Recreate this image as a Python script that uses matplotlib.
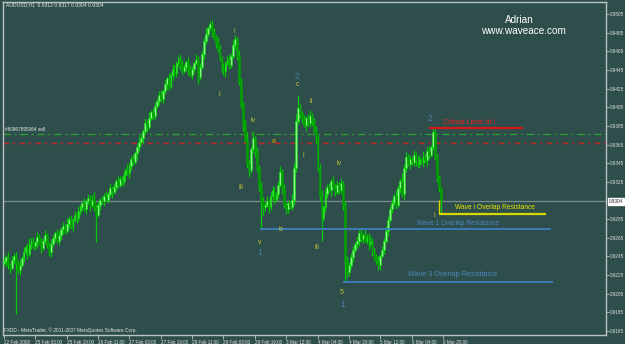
import matplotlib
matplotlib.use('Agg')
import matplotlib.pyplot as plt
import numpy as np

# ---------------- data (prices in pips, 1 pip = 0.0001) ----------------
first_open = 9238
closes = [
    9240, 9244, 9236, 9233, 9241, 9246, 9238, 9230, 9236, 9243,
    9250, 9255, 9248, 9258, 9262, 9256, 9260, 9266, 9259, 9254,
    9262, 9268, 9257, 9250, 9258, 9265, 9270, 9262, 9268, 9274,
    9278, 9272, 9280, 9285, 9278, 9284, 9290, 9286, 9294, 9298,
    9302, 9296, 9304, 9308, 9300, 9306, 9298, 9290, 9300, 9306,
    9304, 9310, 9306, 9312, 9318, 9314, 9320, 9326, 9322, 9328,
    9325, 9332, 9338, 9334, 9342, 9350, 9346, 9356, 9362, 9368,
    9372, 9380, 9388, 9384, 9394, 9400, 9396, 9406, 9412, 9418,
    9414, 9422, 9430, 9436, 9428, 9440, 9446, 9442, 9452, 9458,
    9450, 9444, 9448, 9454, 9446, 9440, 9446, 9452, 9456, 9438,
    9448, 9462, 9476, 9484, 9490, 9494, 9486, 9480, 9474, 9468,
    9458, 9448, 9444, 9452, 9456, 9450, 9460, 9472, 9478, 9460,
    9432, 9408, 9386, 9370, 9345, 9338, 9360, 9372, 9358, 9340,
    9320, 9305, 9298, 9300, 9304, 9298, 9310, 9316, 9306, 9312,
    9322, 9336, 9318, 9300, 9296, 9302, 9298, 9306, 9340, 9390,
    9404, 9398, 9392, 9386, 9394, 9388, 9396, 9390, 9380, 9372,
    9340, 9310, 9286, 9298, 9312, 9320, 9316, 9326, 9320, 9314,
    9322, 9316, 9324, 9300, 9240, 9228, 9236, 9244, 9252, 9258,
    9262, 9270, 9264, 9268, 9262, 9266, 9258, 9262, 9250, 9245,
    9240, 9236, 9246, 9252, 9262, 9272, 9284, 9296, 9302, 9310,
    9300, 9318, 9326, 9312, 9340, 9352, 9344, 9350, 9346, 9354,
    9348, 9344, 9350, 9346, 9352, 9348, 9358, 9354, 9362, 9378,
    9352, 9330, 9318, 9304,
]
up_wick = [
    4, 3, 6, 2, 5, 3, 4, 2, 6, 3,   5, 2, 4, 7, 3, 4, 2, 5, 3, 6,
    3, 5, 2, 4, 6, 3, 2, 5, 4, 3,   4, 2, 6, 3, 5, 2, 4, 3, 5, 2,
    3, 6, 2, 4, 3, 5, 8, 3, 4, 2,   4, 3, 5, 2, 6, 3, 4, 2, 5, 3,
    3, 5, 2, 6, 4, 3, 5, 2, 4, 6,   4, 2, 5, 3, 6, 2, 4, 5, 3, 4,
    5, 3, 4, 2, 6, 3, 5, 4, 3, 2,   4, 6, 3, 2, 5, 4, 3, 2, 6, 4,
    5, 3, 4, 6, 2, 3, 5, 4, 3, 6,   4, 2, 5, 3, 4, 6, 3, 5, 4, 2,
    6, 4, 3, 5, 8, 4, 3, 8, 2, 4,   3, 5, 4, 2, 6, 3, 4, 5, 3, 2,
    4, 6, 3, 5, 2, 4, 3, 6, 5, 8,   14, 4, 3, 5, 2, 4, 6, 3, 4, 5,
    3, 4, 6, 2, 5, 3, 4, 2, 5, 3,   4, 3, 5, 2, 4, 6, 3, 5, 4, 3,
    5, 3, 4, 2, 6, 3, 4, 5, 3, 4,   3, 5, 2, 4, 3, 6, 4, 3, 5, 2,
    6, 4, 3, 8, 4, 5, 3, 4, 2, 5,   3, 5, 4, 2, 6, 3, 4, 5, 3, 6,
    4, 3, 2, 2,
]
dn_wick = [
    3, 5, 4, 6, 2, 4, 55, 3, 5, 2,  4, 3, 6, 2, 5, 3, 4, 6, 2, 5,
    2, 4, 3, 5, 6, 2, 4, 3, 5, 4,   5, 3, 2, 4, 3, 6, 2, 5, 3, 4,
    4, 2, 5, 3, 6, 2, 4, 30, 3, 5,  3, 5, 2, 4, 3, 6, 2, 5, 4, 3,
    4, 3, 6, 2, 5, 4, 3, 2, 6, 4,   3, 5, 4, 6, 2, 3, 5, 4, 2, 5,
    2, 4, 3, 5, 4, 2, 6, 3, 5, 4,   5, 3, 2, 4, 6, 3, 5, 4, 2, 8,
    4, 2, 5, 3, 4, 2, 6, 3, 5, 4,   3, 5, 4, 6, 2, 4, 3, 2, 5, 4,
    3, 4, 6, 2, 5, 8, 3, 4, 6, 3,   5, 31, 8, 4, 2, 6, 3, 4, 5, 2,
    4, 2, 6, 3, 5, 4, 2, 3, 6, 4,   3, 5, 4, 2, 6, 3, 4, 5, 3, 6,
    4, 6, 24, 3, 5, 4, 2, 6, 3, 4,  2, 4, 3, 5, 22, 6, 4, 3, 5, 2,
    4, 6, 3, 5, 2, 4, 6, 3, 5, 4,   3, 5, 6, 2, 4, 3, 5, 2, 4, 3,
    4, 2, 5, 3, 6, 4, 2, 5, 3, 4,   6, 3, 4, 2, 5, 3, 6, 4, 2, 3,
    3, 5, 4, 13,
]
x_tick_labels = ["22 Feb 2008", "25 Feb 03:00", "25 Feb 19:00", "26 Feb 11:00",
                 "27 Feb 03:00", "27 Feb 19:00", "28 Feb 11:00", "29 Feb 03:00",
                 "29 Feb 19:00", "3 Mar 12:00", "4 Mar 04:00", "4 Mar 20:00",
                 "5 Mar 12:00", "6 Mar 04:00", "6 Mar 20:00"]
y_tick_values = [0.9505, 0.9485, 0.9465, 0.9445, 0.9425, 0.9405, 0.9385, 0.9365,
                 0.9345, 0.9325, 0.9285, 0.9265, 0.9245, 0.9225, 0.9205, 0.9185, 0.9165]
current_price = 0.9304
order_green = 0.93763
order_red = 0.93672
critical_level = 0.93827
wave_i_overlap = 0.92905
wave_1_overlap = 0.92744
wave_3_overlap = 0.92176
# wave labels: (text, bar, price, color)
wave_labels = [
    ("i", 117.3, 0.94868, 'y'), ("i", 109.7, 0.94192, 'y'),
    ("2", 149.5, 0.94385, 'b'), ("c", 149.5, 0.94299, 'y'),
    ("ii", 156.6, 0.94117, 'y'), ("iv", 127.0, 0.93913, 'y'),
    ("a", 137.8, 0.93688, 'o'), ("i", 152.6, 0.93538, 'y'),
    ("iv", 170.9, 0.93452, 'y'), ("iii", 120.9, 0.93195, 'y'),
    ("b", 141.3, 0.92744, 'y'), ("v", 130.6, 0.92605, 'y'),
    ("1", 130.6, 0.92498, 'b'), ("iii", 159.7, 0.92551, 'y'),
    ("5", 172.4, 0.92069, 'y'), ("1", 173.0, 0.91940, 'b'),
    ("2", 217.3, 0.93935, 'b'), ("i", 219.4, 0.92894, 'y'),
]

# ---------------- build candles ----------------
c = np.array(closes) / 10000.0
o = np.concatenate([[first_open / 10000.0], c[:-1]])
hi = np.maximum(o, c) + np.array(up_wick) / 10000.0
lo = np.minimum(o, c) - np.array(dn_wick) / 10000.0
idx = np.arange(len(c))

W, H = 625, 344
BG = '#2E4E4C'
FRAME = '#b9c3c3'
SMALL = 'Liberation Sans'
fig = plt.figure(figsize=(W / 100, H / 100), dpi=100, facecolor=BG)
ax = fig.add_axes([3 / W, (H - 335) / H, 603 / W, 333 / H], facecolor=BG)
ax.set_xlim(-0.5, -0.5 + 603 / 1.96)
ax.set_ylim(0.91608, 0.95179)

up = c >= o
ax.vlines(idx, lo, hi, color='#00C800', linewidth=0.9, zorder=3)
body = np.maximum(np.abs(c - o), 0.00004)
ax.bar(idx[up], body[up], bottom=np.minimum(o, c)[up], width=0.9,
       color='#8EF58E', edgecolor='#00E000', linewidth=0.4, zorder=4)
ax.bar(idx[~up], body[~up], bottom=np.minimum(o, c)[~up], width=0.9,
       color='#00A000', edgecolor='#00A000', linewidth=0.4, zorder=4)

# horizontal levels
ax.axhline(order_green, color='#2FA02F', lw=0.9, ls=(0, (6, 3, 1.5, 3)), zorder=2)
ax.axhline(order_red, color='#C42424', lw=1.0, ls=(0, (4, 3, 1.5, 3)), zorder=2)
ax.axhline(current_price, color='#7A8C8C', lw=0.9, zorder=1)
ax.text(0.5, order_green + 0.0002, "#60967895064 sell", color='#e8e8e8',
        fontsize=3.4, family=SMALL, ha='left', va='bottom', zorder=6)

ax.hlines(critical_level, 216.8, 264.8, color='#D81818', lw=1.6, zorder=5)
ax.text(224, critical_level + 0.0006, "Critical Level of i", color='#EE2222',
        fontsize=5.0, family=SMALL, ha='left', va='center', zorder=6)
ax.hlines(wave_i_overlap, 222, 276.5, color='#D8D800', lw=1.6, zorder=5)
ax.vlines(222, wave_i_overlap, wave_i_overlap + 0.0015, color='#D8D800', lw=1.0, zorder=5)
ax.text(230, wave_i_overlap + 0.00075, "Wave i Overlap Resistance", color='#E6E600',
        fontsize=4.8, family=SMALL, ha='left', va='center', zorder=6)
ax.hlines(wave_1_overlap, 130.6, 279, color='#3E7DBF', lw=1.3, zorder=5)
ax.text(210.7, wave_1_overlap + 0.00055, "Wave 1 Overlap Resistance", color='#4F86C0',
        fontsize=4.8, family=SMALL, ha='left', va='center', zorder=6)
ax.hlines(wave_3_overlap, 173, 280, color='#3E7DBF', lw=1.3, zorder=5)
ax.text(206, wave_3_overlap + 0.00078, "Wave 3 Overlap Resistance", color='#4F86C0',
        fontsize=5.2, family=SMALL, ha='left', va='center', zorder=6)

cmap = {'y': '#C8C23A', 'b': '#4D7FAF', 'o': '#E8A000'}
for t, bx, py, col in wave_labels:
    fs = 6.2 if col == 'b' else 5.0
    ax.text(bx, py, t, color=cmap[col], fontsize=fs, ha='center', va='center',
            family=SMALL, zorder=7)

# axes styling
for s in ['top', 'right', 'bottom', 'left']:
    ax.spines[s].set_color(FRAME)
    ax.spines[s].set_linewidth(1.0)
ax.yaxis.tick_right()
ax.set_yticks(y_tick_values)
ax.set_yticklabels([f"{v:.4f}" for v in y_tick_values], family=SMALL)
ax.tick_params(axis='y', colors=FRAME, labelcolor='#e0e0e0', labelsize=3.3,
               length=2, width=0.6, pad=1.0, direction='out')
xt = np.arange(len(x_tick_labels)) * 16
ax.set_xticks(xt)
ax.set_xticklabels(x_tick_labels, family=SMALL)
ax.tick_params(axis='x', colors=FRAME, labelcolor='#e0e0e0', labelsize=3.3,
               length=3, width=0.6, pad=0.3, direction='out')
for lbl in ax.get_xticklabels():
    lbl.set_horizontalalignment('left')

# current price box on the axis
ax.text(1.0 + 3 / 603, current_price, f"{current_price:.4f}", transform=ax.get_yaxis_transform(),
        fontsize=3.3, family=SMALL, color='#202020', ha='left', va='center', clip_on=False,
        bbox=dict(boxstyle='square,pad=0.15', fc='white', ec='white'), zorder=8)

# screen-anchored texts
def ftext(x, y, s, **kw):
    fig.text(x / W, 1 - y / H, s, **kw)

ftext(6, 5, "AUDUSD,H1  0.9312 0.9317 0.9304 0.9304", color='#e8e8e8', fontsize=3.6,
      family=SMALL, ha='left', va='center')
ftext(519, 20, "Adrian", color='white', fontsize=7.2, ha='center', va='center',
      family='Liberation Sans')
ftext(523, 31, "www.waveace.com", color='white', fontsize=7.2, ha='center', va='center',
      family='Liberation Sans')
ftext(4, 330, "FXDD - MetaTrader, \u00a9 2001-2007 MetaQuotes Software Corp.",
      color='#e8e8e8', fontsize=3.4, family=SMALL, ha='left', va='center')

fig.savefig('out.png', dpi=100, facecolor=BG)
